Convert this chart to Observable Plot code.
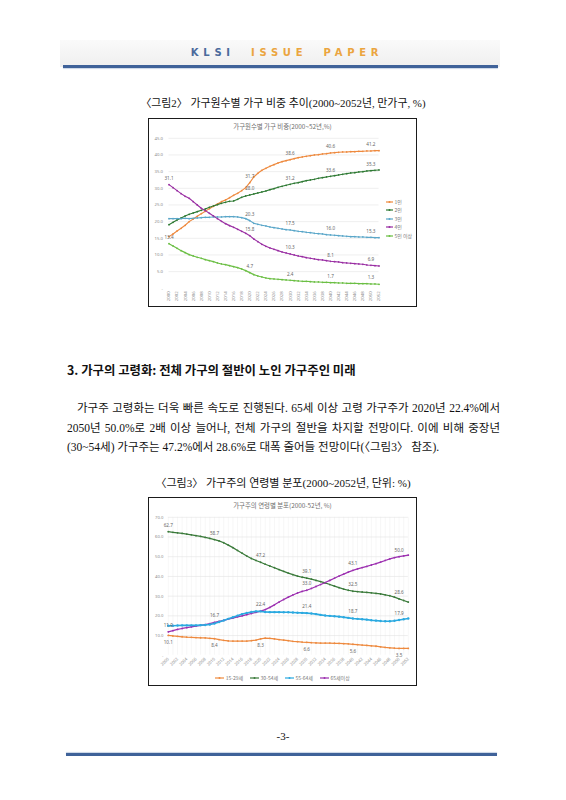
<!DOCTYPE html>
<html><head><meta charset="utf-8">
<script src="https://cdn.jsdelivr.net/npm/d3@7"></script>
<script src="https://cdn.jsdelivr.net/npm/@observablehq/plot@0.6"></script>
<style>
html,body{margin:0;padding:0;background:#fff}
body{width:566px;height:800px;position:relative;overflow:hidden;font-family:"Liberation Serif","Noto Sans CJK KR",serif;color:#111}
.abs{position:absolute}
.t{position:absolute;line-height:16px;white-space:nowrap}
.just{text-align:justify;text-align-last:justify;white-space:nowrap}
.box{position:absolute;box-sizing:border-box;border:1.5px solid #1b1b1b;background:#fff}
.ctitle{position:absolute;left:0;right:0;text-align:center;font-family:"Noto Sans CJK KR",sans-serif;font-size:6.4px;color:#6f6f6f}
.leg{position:absolute;font-family:"Noto Sans CJK KR",sans-serif;font-size:5px;color:#777}
.leg .it{display:flex;align-items:center;gap:1.5px;line-height:6px}
</style></head><body>

<div class="abs" style="left:60px;top:40px;width:440px;height:27px;background:linear-gradient(#fafafa,#efefef)"></div>
<div class="t" style="left:4px;width:566px;top:45px;text-align:center;font-family:'DejaVu Sans',sans-serif;font-weight:bold;font-size:10px;letter-spacing:4.7px"><span style="color:#4A6A9C">KLSI</span>&nbsp;&nbsp;<span style="color:#EBA540">ISSUE</span>&nbsp;&nbsp;<span style="color:#EBA540">PAPER</span></div>
<div class="abs" style="left:63px;top:65px;width:435px;height:3px;background:#3F6299;box-shadow:0 1px 1px #c9d5e6"></div>

<div class="t" style="left:0;width:566px;top:95px;text-align:center;font-size:10.9px">〈그림2〉 가구원수별 가구 비중 추이(2000~2052년, 만가구, %)</div>

<div class="box" id="box1" style="left:148px;top:118px;width:269px;height:189px">
  <div class="ctitle" style="top:3px">가구원수별 가구 비중(2000~52년,%)</div>
  <div class="leg" id="leg1" style="left:237px;top:80px;display:flex;flex-direction:column;gap:2.4px"></div>
</div>

<div class="t" style="left:67px;top:362px;font-family:'Noto Sans CJK KR',sans-serif;font-weight:bold;font-size:12.4px">3. 가구의 고령화: 전체 가구의 절반이 노인 가구주인 미래</div>

<div class="t just" style="left:77px;width:423px;top:400px;font-size:11.5px">가구주 고령화는 더욱 빠른 속도로 진행된다. 65세 이상 고령 가구주가 2020년 22.4%에서</div>
<div class="t just" style="left:67px;width:433px;top:420px;font-size:11.5px">2050년 50.0%로 2배 이상 늘어나, 전체 가구의 절반을 차지할 전망이다. 이에 비해 중장년</div>
<div class="t" style="left:67px;top:439px;font-size:11.5px">(30~54세) 가구주는 47.2%에서 28.6%로 대폭 줄어들 전망이다(〈그림3〉 참조).</div>

<div class="t" style="left:0;width:566px;top:475px;text-align:center;font-size:11px">〈그림3〉 가구주의 연령별 분포(2000~2052년, 단위: %)</div>

<div class="box" id="box2" style="left:148px;top:497px;width:269px;height:189px">
  <div class="ctitle" style="top:3px">가구주의 연령별 분포(2000-52년, %)</div>
  <div class="leg" id="leg2" style="left:0;right:0;top:177px;display:flex;justify-content:center;gap:7px"></div>
</div>

<div class="t" style="left:0;width:566px;top:728px;text-align:center;font-size:11px">-3-</div>
<div class="abs" style="left:66px;top:753px;width:431px;height:3px;background:#3F6299;box-shadow:0 -1px 1px #c9d5e6"></div>

<script>
// ---------- data ----------
const years = d3.range(2000, 2053);

// Figure 2: household share by household size (%)
const names1 = ["1인", "2인", "3인", "4인", "5인 이상"];
const one = [15.5,16.3,17.2,18.0,18.9,20.0,20.8,21.6,22.4,23.1,23.9,24.6,25.3,26.0,26.5,27.2,27.9,28.5,29.3,30.2,31.7,33.4,34.5,35.4,36.0,36.6,37.1,37.6,38.0,38.3,38.6,38.9,39.2,39.4,39.6,39.8,40.0,40.1,40.3,40.4,40.6,40.7,40.8,40.9,40.9,41.0,41.0,41.1,41.1,41.2,41.2,41.3,41.3];
const two = [19.1,19.8,20.5,21.1,21.7,22.2,22.6,23.0,23.4,23.8,24.3,24.7,25.1,25.5,25.8,26.1,26.2,26.7,27.3,27.7,28.0,28.3,28.6,28.9,29.2,29.6,29.9,30.3,30.6,30.9,31.2,31.5,31.7,32.0,32.3,32.5,32.7,33.0,33.2,33.4,33.6,33.8,34.0,34.2,34.4,34.6,34.7,34.9,35.0,35.2,35.3,35.4,35.5];
const three = [20.9,20.9,20.9,20.9,21.0,20.9,21.0,21.1,21.2,21.3,21.3,21.4,21.4,21.4,21.5,21.5,21.5,21.4,21.2,20.9,20.3,19.5,19.2,18.9,18.7,18.4,18.2,18.0,17.8,17.6,17.5,17.3,17.1,17.0,16.8,16.7,16.5,16.4,16.3,16.1,16.0,15.9,15.8,15.7,15.6,15.5,15.5,15.4,15.4,15.3,15.3,15.2,15.2];
const four = [31.1,30.2,29.3,28.4,27.6,27.0,26.0,25.0,24.0,23.3,22.5,21.7,20.9,20.1,19.4,18.8,18.3,17.7,17.1,16.5,15.8,14.8,14.0,13.2,12.6,12.1,11.7,11.3,10.9,10.6,10.3,10.0,9.7,9.5,9.2,9.0,8.8,8.6,8.5,8.3,8.1,8.0,7.9,7.7,7.6,7.5,7.4,7.3,7.2,7.0,6.9,6.8,6.7];
const fivePlus = [13.4,12.7,12.0,11.3,10.7,10.1,9.7,9.3,9.0,8.6,8.3,8.0,7.6,7.3,7.1,6.8,6.5,6.2,5.8,5.3,4.7,4.1,3.7,3.4,3.1,2.9,2.8,2.7,2.6,2.5,2.4,2.3,2.2,2.1,2.1,2.0,1.9,1.9,1.8,1.8,1.7,1.7,1.6,1.6,1.5,1.5,1.5,1.4,1.4,1.4,1.3,1.3,1.2];
const labelYears1 = [[2020,2030,2040,2050],[2020,2030,2040,2050],[2020,2030,2040,2050],[2000,2020,2030,2040,2050],[2000,2020,2030,2040,2050]];
const yTicks1 = [0,5,10,15,20,25,30,35,40,45];

// Figure 3: household heads by age group (%)
const names2 = ["15-29세", "30-54세", "55-64세", "65세이상"];
const age15 = [10.1,9.8,9.6,9.4,9.2,9.1,9.0,8.9,8.8,8.6,8.4,8.0,7.6,7.3,7.2,7.2,7.2,7.2,7.4,7.7,8.3,8.7,8.6,8.3,8.0,7.7,7.4,7.1,6.9,6.7,6.6,6.4,6.3,6.2,6.2,6.2,6.1,6.0,5.9,5.8,5.6,5.4,5.2,5.0,4.8,4.6,4.3,4.0,3.8,3.6,3.5,3.5,3.5];
const age30 = [62.7,62.4,62.1,61.8,61.5,61.1,60.7,60.3,59.8,59.3,58.7,58.0,57.1,55.9,54.6,53.2,51.8,50.4,49.1,48.1,47.2,46.2,45.3,44.4,43.5,42.6,41.7,40.9,40.2,39.6,39.1,38.6,38.0,37.4,36.7,35.9,35.1,34.3,33.6,33.0,32.5,32.3,32.1,31.9,31.7,31.4,31.1,30.7,30.2,29.5,28.6,27.8,27.0];
const age55 = [15.0,15.0,15.1,15.2,15.2,15.2,15.2,15.3,15.4,15.6,16.1,16.9,17.7,18.5,19.3,20.1,20.9,21.5,22.0,22.3,22.3,22.0,21.9,21.9,21.9,21.8,21.8,21.7,21.6,21.5,21.4,21.2,20.9,20.5,20.2,20.0,19.8,19.6,19.3,19.0,18.7,18.5,18.3,18.1,17.8,17.6,17.4,17.3,17.3,17.5,17.9,18.3,18.7];
const age65 = [11.9,12.5,13.1,13.6,14.0,14.4,14.8,15.2,15.6,16.1,16.7,17.2,17.7,18.3,18.9,19.5,20.0,20.6,21.2,21.8,22.4,23.2,24.3,25.6,27.0,28.3,29.5,30.6,31.6,32.4,33.0,33.9,34.9,35.9,36.9,38.0,39.1,40.2,41.2,42.2,43.1,43.8,44.5,45.1,45.8,46.5,47.3,48.1,48.9,49.5,50.0,50.4,50.8];
const labelYears2 = [[2000,2010,2020,2030,2040,2050],[2000,2010,2020,2030,2040,2050],[2030,2040,2050],[2000,2010,2020,2030,2040,2050]];
const yTicks2 = [0,10,20,30,40,50,60,70];

// ---------- build ----------
const colors1 = ["#EE8A3F", "#2F7A34", "#5BA7C9", "#9A2FA3", "#6CBF45"];
const colors2 = ["#EE8A3F", "#3A7A3A", "#2AA9E0", "#9C2FB0"];
const vals1 = [one, two, three, four, fivePlus];
const vals2 = [age15, age30, age55, age65];

function tidy(names, vals) {
  return names.flatMap((s, i) => years.map((y, j) => ({s, year: y, value: vals[i][j]})));
}
function labels(names, vals, ly) {
  return names.flatMap((s, i) => ly[i].map(y => ({s, year: y, value: vals[i][years.indexOf(y)]})));
}
const fmtY = d => d === 0 ? "-" : d.toFixed(1);
const font = "'Noto Sans','DejaVu Sans',sans-serif";

const rows1 = tidy(names1, vals1);
const lab1 = labels(names1, vals1, labelYears1);
const p1 = Plot.plot({
  width: 266, height: 186,
  marginLeft: 19.5, marginRight: 36.5, marginTop: 18.8, marginBottom: 17.2,
  style: {fontFamily: font, fontSize: "4.3px", color: "#8c8c8c", background: "transparent", overflow: "visible"},
  x: {domain: [2000, 2052]},
  y: {domain: [0, 45]},
  color: {domain: names1, range: colors1},
  marks: [
    Plot.gridY(yTicks1.filter(d => d > 0), {stroke: "#e4e4e4", strokeOpacity: 1, strokeWidth: 0.6}),
    Plot.axisY(yTicks1, {tickSize: 0, tickPadding: 6, tickFormat: fmtY, label: null}),
    Plot.axisX(d3.range(2000, 2053, 2), {tickSize: 0, tickPadding: 3, tickRotate: -90, tickFormat: d => String(d), label: null}),
    Plot.line(rows1, {x: "year", y: "value", z: "s", stroke: "s", strokeWidth: 1.15}),
    Plot.dot(rows1, {x: "year", y: "value", fill: "s", r: 0.85}),
    Plot.text(lab1, {x: "year", y: "value", text: d => d.value.toFixed(1), dy: -6, fill: "#666", fontSize: 4.6})
  ]
});
p1.style.position = "absolute"; p1.style.left = "0"; p1.style.top = "0";
document.getElementById("box1").appendChild(p1);

const rows2 = tidy(names2, vals2);
const lab2 = labels(names2, vals2, labelYears2);
const isMid = d => d.s === "55-64세";
const p2 = Plot.plot({
  width: 266, height: 186,
  marginLeft: 18.8, marginRight: 7.2, marginTop: 18.8, marginBottom: 29.2,
  style: {fontFamily: font, fontSize: "4.2px", color: "#8c8c8c", background: "transparent", overflow: "visible"},
  x: {domain: [2000, 2052]},
  y: {domain: [0, 70]},
  color: {domain: names2, range: colors2},
  marks: [
    Plot.gridX(years, {stroke: "#eeeeee", strokeOpacity: 1, strokeWidth: 0.5}),
    Plot.gridY(yTicks2.filter(d => d > 0), {stroke: "#e2e2e2", strokeOpacity: 1, strokeWidth: 0.6}),
    Plot.axisY(yTicks2, {tickSize: 0, tickPadding: 5, tickFormat: fmtY, label: null}),
    Plot.axisX(d3.range(2000, 2053, 2), {tickSize: 0, tickPadding: 3, tickRotate: -45, tickFormat: d => String(d), label: null}),
    Plot.line(rows2.filter(d => !isMid(d)), {x: "year", y: "value", z: "s", stroke: "s", strokeWidth: 1.25}),
    Plot.line(rows2.filter(isMid), {x: "year", y: "value", z: "s", stroke: "s", strokeWidth: 1.6}),
    Plot.dot(rows2.filter(d => !isMid(d)), {x: "year", y: "value", fill: "s", r: 0.9}),
    Plot.dot(rows2.filter(isMid), {x: "year", y: "value", fill: "s", r: 1.2}),
    Plot.text(lab2.filter(d => d.s === "15-29세"), {x: "year", y: "value", text: d => d.value.toFixed(1), dy: 7, fill: "#666", fontSize: 4.6}),
    Plot.text(lab2.filter(d => d.s !== "15-29세"), {x: "year", y: "value", text: d => d.value.toFixed(1), dy: -6.5, fill: "#666", fontSize: 4.6})
  ]
});
p2.style.position = "absolute"; p2.style.left = "0"; p2.style.top = "0";
document.getElementById("box2").appendChild(p2);

// legends
function sample(c, w) {
  return `<svg width="${w}" height="4" style="display:block"><line x1="0" x2="${w}" y1="2" y2="2" stroke="${c}" stroke-width="1.2"/><circle cx="${w/2}" cy="2" r="1" fill="${c}"/></svg>`;
}
document.getElementById("leg1").innerHTML = names1.map((n, i) => `<div class="it">${sample(colors1[i], 7)}<span>${n}</span></div>`).join("");
document.getElementById("leg2").innerHTML = names2.map((n, i) => `<div class="it">${sample(colors2[i], 9)}<span>${n}</span></div>`).join("");
document.getElementById("box1").appendChild(document.getElementById("leg1"));
document.getElementById("box2").appendChild(document.getElementById("leg2"));
</script>
</body></html>
